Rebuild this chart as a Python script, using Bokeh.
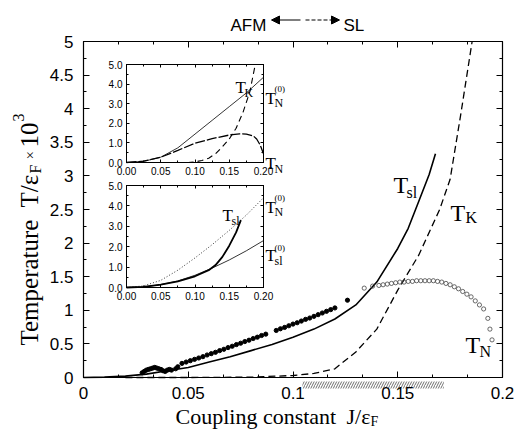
import numpy as np
from bokeh.plotting import figure
from bokeh.models import (Range1d, LinearAxis, FixedTicker, NumeralTickFormatter,
                          Label, Arrow, NormalHead, BoxAnnotation)
from bokeh.embed import file_html
from bokeh.resources import INLINE

# ---------------- data ----------------
# main panel: T_sl (solid) and T_K (dashed), in units of 1e-3 eps_F
J_sl = [0.0, 0.01, 0.02, 0.03, 0.04, 0.05, 0.06, 0.07, 0.08, 0.09, 0.10, 0.11,
        0.12, 0.13, 0.14, 0.15, 0.155, 0.16, 0.165, 0.168]
T_sl = [0.0, 0.005, 0.02, 0.05, 0.10, 0.15, 0.23, 0.31, 0.40, 0.49, 0.60, 0.72,
        0.87, 1.08, 1.42, 1.92, 2.22, 2.62, 3.02, 3.33]
J_K = [0.02, 0.05, 0.08, 0.10, 0.11, 0.12, 0.13, 0.14, 0.15, 0.16, 0.17, 0.175, 0.18, 0.1855]
T_K = [0.0, 0.0, 0.005, 0.03, 0.06, 0.13, 0.38, 0.72, 1.30, 1.82, 2.5, 2.95, 3.9, 5.0]

# T_N from simulation: filled dots
J_Nf = [0.028, 0.029, 0.030, 0.031, 0.032, 0.033, 0.034, 0.035, 0.036, 0.037, 0.038,
        0.039, 0.040, 0.041, 0.042, 0.044, 0.045,
        0.047, 0.049, 0.051, 0.053, 0.055, 0.057, 0.059, 0.061, 0.063, 0.065, 0.067,
        0.069, 0.071, 0.073, 0.075, 0.077, 0.079, 0.081, 0.083, 0.085, 0.087,
        0.092, 0.094, 0.096, 0.098, 0.100, 0.102, 0.104, 0.106, 0.108, 0.110, 0.112,
        0.114, 0.116, 0.118, 0.120, 0.126]
T_Nf = [0.07, 0.09, 0.11, 0.12, 0.13, 0.14, 0.15, 0.14, 0.13, 0.12, 0.10,
        0.09, 0.11, 0.12, 0.11, 0.13, 0.16,
        0.21, 0.23, 0.25, 0.27, 0.29, 0.31, 0.335, 0.355, 0.375, 0.40, 0.42,
        0.445, 0.465, 0.49, 0.51, 0.535, 0.555, 0.58, 0.60, 0.625, 0.645,
        0.70, 0.725, 0.745, 0.77, 0.795, 0.815, 0.84, 0.865, 0.885, 0.91, 0.935,
        0.96, 0.985, 1.01, 1.035, 1.15]
# T_N: open circles
J_No = [0.134, 0.138, 0.141, 0.143, 0.145, 0.147, 0.149, 0.151, 0.153, 0.155, 0.157,
        0.159, 0.161, 0.163, 0.165, 0.167, 0.169, 0.171, 0.173, 0.175, 0.177, 0.179,
        0.181, 0.183, 0.185, 0.187, 0.189, 0.191, 0.193, 0.194, 0.195]
T_No = [1.33, 1.36, 1.37, 1.38, 1.39, 1.40, 1.41, 1.42, 1.42, 1.43, 1.43,
        1.44, 1.44, 1.44, 1.44, 1.44, 1.43, 1.42, 1.40, 1.38, 1.35, 1.32,
        1.28, 1.24, 1.20, 1.14, 1.08, 1.02, 0.88, 0.72, 0.56]
# hatched J interval below the axis
hatch_J = [0.1045, 0.172]

# insets
ins_J = [0.0, 0.025, 0.05, 0.075, 0.1, 0.125, 0.15, 0.175, 0.2]
up_TN0 = [0.0, 0.06, 0.27, 0.75, 1.45, 2.15, 2.85, 3.55, 4.35]
up_TK_J = [0.06, 0.09, 0.10, 0.11, 0.12, 0.13, 0.14, 0.15, 0.16, 0.17, 0.18, 0.188]
up_TK = [0.0, 0.0, 0.03, 0.10, 0.22, 0.45, 0.80, 1.20, 1.75, 2.55, 3.60, 5.0]
up_TN_J = [0.0, 0.025, 0.05, 0.075, 0.1, 0.125, 0.15, 0.165, 0.175, 0.185, 0.19, 0.195, 0.2]
up_TN = [0.0, 0.07, 0.27, 0.62, 0.98, 1.22, 1.40, 1.46, 1.45, 1.36, 1.20, 0.90, 0.45]
lo_TN0 = [0.0, 0.08, 0.35, 0.85, 1.45, 2.10, 2.80, 3.55, 4.40]
lo_Tsl_J = [0.0, 0.025, 0.05, 0.075, 0.1, 0.12, 0.13, 0.14, 0.15, 0.16, 0.167]
lo_Tsl = [0.0, 0.03, 0.14, 0.30, 0.55, 0.85, 1.10, 1.50, 2.05, 2.70, 3.30]
lo_Tsl0 = [0.0, 0.03, 0.14, 0.32, 0.60, 0.95, 1.35, 1.80, 2.30]

X_TICKS = [0, 0.05, 0.1, 0.15, 0.2]
Y_TICKS = [0, 0.5, 1, 1.5, 2, 2.5, 3, 3.5, 4, 4.5, 5]
INS_X_TICKS = [0, 0.05, 0.1, 0.15, 0.2]
INS_Y_TICKS = [0, 1, 2, 3, 4, 5]
XLIM, YLIM = (0, 0.2), (0, 5)

# ---------------- layout constants (page px) ----------------
W, H = 516, 430
CL, CR, CT, CB = 0, W, 0, H                  # canvas on page
FL, FR, FT, FB = 83, 502, 41, 377           # main axes box on page
IX0, IX1 = 126, 263                          # inset x extent on page
UY0, UY1 = 64, 162                           # upper inset top/bottom
LY0, LY1 = 185, 287                          # lower inset top/bottom
SERIF = "Liberation Serif"
SANS = "Liberation Sans"


def rng_x(p0, p1, lim):
    s = (lim[1] - lim[0]) / (p1 - p0)
    return Range1d(lim[0] - (p0 - CL) * s, lim[1] + (CR - p1) * s)


def rng_y(top, bot, lim):
    s = (lim[1] - lim[0]) / (bot - top)
    return Range1d(lim[0] - (CB - bot) * s, lim[1] + (top - CT) * s)


def to_data(px, py):
    x = XLIM[0] + (px - FL) / (FR - FL) * (XLIM[1] - XLIM[0])
    y = YLIM[0] + (FB - py) / (FB - FT) * (YLIM[1] - YLIM[0])
    return x, y


# the bokeh frame fills the whole canvas; the axes box is drawn with fixed axes
p = figure(width=W, height=H, output_backend="svg", toolbar_location=None,
           x_range=rng_x(FL, FR, XLIM), y_range=rng_y(FT, FB, YLIM),
           x_axis_type=None, y_axis_type=None, min_border=0)
p.outline_line_color = None
p.background_fill_color = "white"
p.border_fill_color = "white"

p.extra_x_ranges = {"ix": rng_x(IX0, IX1, XLIM)}
p.extra_y_ranges = {"uy": rng_y(UY0, UY1, YLIM), "ly": rng_y(LY0, LY1, YLIM)}


def style_axis(ax, labels, size="17px", tin=6, tmin=3, standoff=9, lw=1.2):
    ax.axis_line_color = "black"
    ax.axis_line_width = lw
    ax.major_tick_in = tin
    ax.major_tick_out = 0
    ax.minor_tick_in = tmin
    ax.minor_tick_out = 0
    ax.major_tick_line_color = "black"
    ax.minor_tick_line_color = "black"
    ax.major_label_text_font = SANS
    ax.major_label_text_font_size = size
    ax.major_label_standoff = standoff
    ax.major_label_text_color = "black" if labels else None


def add_box_axes(xname, yname, xt, xm, yt, ym, xfmt, yfmt, size, tin, tmin, so, lw):
    kw = {}
    if xname:
        kw["x_range_name"] = xname
    if yname:
        kw["y_range_name"] = yname
    for side, loc, lab in (("below", YLIM[0], True), ("above", YLIM[1], False)):
        ax = LinearAxis(fixed_location=loc, bounds=XLIM,
                        ticker=FixedTicker(ticks=xt, minor_ticks=xm),
                        formatter=NumeralTickFormatter(format=xfmt), **kw)
        style_axis(ax, lab, size=size, tin=tin, tmin=tmin, standoff=so[0], lw=lw)
        p.add_layout(ax, side)
    for side, loc, lab in (("left", XLIM[0], True), ("right", XLIM[1], False)):
        ax = LinearAxis(fixed_location=loc, bounds=YLIM,
                        ticker=FixedTicker(ticks=yt, minor_ticks=ym),
                        formatter=NumeralTickFormatter(format=yfmt), **kw)
        style_axis(ax, lab, size=size, tin=tin, tmin=tmin, standoff=so[1], lw=lw)
        p.add_layout(ax, side)


# ---------------- main curves ----------------
p.line(J_sl, T_sl, line_color="black", line_width=1.6)
p.line(J_K, T_K, line_color="black", line_width=1.3, line_dash="7 4")
p.scatter(J_Nf, T_Nf, size=4.2, marker="circle", fill_color="black", line_color="black")
p.scatter(J_No, T_No, size=4.2, marker="circle", fill_color=None, line_color="#444444",
          line_width=0.8)

add_box_axes(None, None, X_TICKS, list(np.arange(0, 0.2001, 0.05 / 3)),
             Y_TICKS, list(np.arange(0, 5.001, 0.25)), "0.[00]", "0.[0]",
             "17px", 6, 3, (9, 10), 1.2)

p.add_layout(BoxAnnotation(left=hatch_J[0], right=hatch_J[1],
                           top=to_data(0, FB + 4)[1], bottom=to_data(0, FB + 11)[1],
                           fill_color=None, fill_alpha=0, line_color=None,
                           hatch_pattern="/", hatch_color="black", hatch_scale=5,
                           hatch_weight=0.7, hatch_alpha=0.8))

# ---------------- insets ----------------
for yname in ("uy", "ly"):
    p.quad(left=[XLIM[0]], right=[XLIM[1]], bottom=[YLIM[0]], top=[YLIM[1]],
           x_range_name="ix", y_range_name=yname, fill_color="white", line_color="black",
           line_width=1)
    add_box_axes("ix", yname, INS_X_TICKS, list(np.arange(0, 0.2001, 0.025)),
                 INS_Y_TICKS, list(np.arange(0, 5.001, 0.5)), "0.00", "0.0",
                 "10px", 3, 2, (4, 4), 1)

p.line(ins_J, up_TN0, x_range_name="ix", y_range_name="uy", line_color="black", line_width=0.8)
p.line(up_TK_J, up_TK, x_range_name="ix", y_range_name="uy", line_color="black",
       line_width=1.1, line_dash="6 4")
p.line(up_TN_J, up_TN, x_range_name="ix", y_range_name="uy", line_color="black",
       line_width=1.3, line_dash="10 2")

p.line(ins_J, lo_TN0, x_range_name="ix", y_range_name="ly", line_color="black",
       line_width=0.8, line_dash="1 2")
p.line(lo_Tsl_J, lo_Tsl, x_range_name="ix", y_range_name="ly", line_color="black",
       line_width=1.8)
p.line(ins_J, lo_Tsl0, x_range_name="ix", y_range_name="ly", line_color="black",
       line_width=0.8)


# ---------------- texts ----------------
def text_at(px, py, s, size, font=SERIF, angle=0.0):
    x, y = to_data(px, py)
    p.add_layout(Label(x=x, y=y, text=s, text_font=font, text_font_size=f"{size}px",
                       angle=angle, text_align="left", text_baseline="alphabetic",
                       text_color="black"))


# main curve labels
text_at(393, 184, "T", 24); text_at(406, 192, "sl", 16)
text_at(450, 212, "T", 24); text_at(465, 217, "K", 16)
text_at(465, 344, "T", 24); text_at(479, 351, "N", 16)
# upper inset labels
text_at(235, 87, "T", 17); text_at(244, 92, "K", 12)
text_at(265, 98, "T", 17); text_at(274, 88, "(0)", 9); text_at(274, 102, "N", 12)
text_at(265, 163, "T", 17); text_at(274, 168, "N", 12)
# lower inset labels
text_at(222, 215, "T", 17); text_at(231, 220, "sl", 12)
text_at(265, 207, "T", 17); text_at(274, 197, "(0)", 9); text_at(274, 211, "N", 12)
text_at(265, 255, "T", 17); text_at(274, 247, "(0)", 9); text_at(274, 260, "sl", 12)

# axis titles
text_at(175, 416, "Coupling constant", 22)
text_at(346, 416, "J/\u03b5", 22)
text_at(370, 421, "F", 14)
R = np.pi / 2
text_at(29, 345, "Temperature", 25, angle=R)
text_at(29, 207, "T/\u03b5", 25, angle=R)
text_at(35, 173, "F", 16, angle=R)
text_at(29, 159, "\u00d7", 15, angle=R)
text_at(29, 147, "10", 25, angle=R)
text_at(18, 121, "3", 16, angle=R)

# AFM <-> SL
text_at(230, 25, "AFM", 17, font=SANS)
text_at(343, 25, "SL", 17, font=SANS)
ya = to_data(0, 19.5)[1]
p.add_layout(Arrow(end=NormalHead(size=8, fill_color="black", line_color="black"),
                   x_start=to_data(300, 0)[0], y_start=ya, x_end=to_data(271, 0)[0], y_end=ya,
                   line_color="black", line_width=1.2))
p.add_layout(Arrow(end=NormalHead(size=8, fill_color="black", line_color="black"),
                   x_start=to_data(305, 0)[0], y_start=ya, x_end=to_data(339, 0)[0], y_end=ya,
                   line_color="black", line_width=1.2, line_dash="4 2"))

open("out.html", "w").write(file_html(p, INLINE))
